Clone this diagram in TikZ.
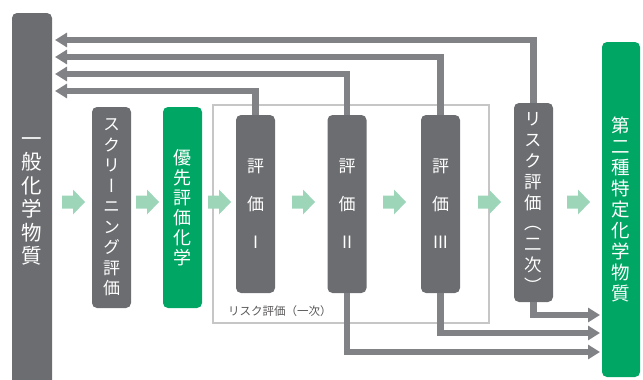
\documentclass[tikz,border=0pt]{standalone}
\usepackage{fontspec}
\newfontfamily\jp{Noto Sans CJK JP}
\newfontfamily\jpv{Noto Sans CJK JP}[RawFeature=+vert]
\usetikzlibrary{arrows.meta,calc}
\definecolor{boxgray}{HTML}{6C6D70}
\definecolor{linegray}{HTML}{818286}
\definecolor{mygreen}{HTML}{00A764}
\definecolor{lgreen}{HTML}{9DD5B9}
\definecolor{rectgray}{HTML}{C6C6C6}
\definecolor{labelgray}{HTML}{595757}
\begin{document}
\begin{tikzpicture}[x=1pt,y=-1pt,
  box/.style={fill=boxgray, rounded corners=5pt, text=white, inner sep=0pt, align=center, minimum width=39pt},
  gbox/.style={box, fill=mygreen},
  vtext/.style={font=\jpv\fontsize{17}{20.5}\selectfont},
  conn/.style={draw=linegray, line width=6.5pt, -{Triangle[length=12pt,width=14pt]}},
  garrow/.pic={\fill[lgreen] (0,-6.5) -- (11,-6.5) -- (11,-12.5) -- (23,0) -- (11,12.5) -- (11,6.5) -- (0,6.5) -- cycle;}
]
\useasboundingbox (0,0) rectangle (643,380);

% group rectangle
\node[draw=rectgray, line width=2pt, minimum width=276pt, minimum height=218pt, inner sep=0pt] (grp) at (351,214) {};

% boxes
\node[box, minimum width=40pt, minimum height=377pt, font=\jpv\fontsize{20.5}{23.5}\selectfont] (gen) at (32,201.5)
  {一\\般\\化\\学\\物\\質};
\node[box, minimum height=201pt, vtext] (scr) at (111.5,207.5)
  {ス\\ク\\リ\\ー\\ニ\\ン\\グ\\評\\価};
\node[gbox, minimum height=201pt, font=\jpv\fontsize{18}{20}\selectfont] (pri) at (182.5,207.5)
  {優\\先\\評\\価\\化\\学};
\node[box, minimum height=178pt, font=\jp\fontsize{17}{38}\selectfont] (ev1) at (255.5,204)
  {評\\価\\I};
\node[box, minimum height=178pt, font=\jp\fontsize{17}{38}\selectfont] (ev2) at (347,204)
  {評\\価\\II};
\node[box, minimum height=178pt, font=\jp\fontsize{17}{38}\selectfont] (ev3) at (440.5,204)
  {評\\価\\III};
\node[box, minimum height=199pt, font=\jpv\fontsize{17.5}{20.9}\selectfont] (rs2) at (533.5,202.5)
  {リ\\ス\\ク\\評\\価\\（\\二\\次\\）};
\node[gbox, minimum width=38pt, minimum height=335pt, font=\jpv\fontsize{18.5}{21.1}\selectfont] (sec) at (621,209.5)
  {第\\二\\種\\特\\定\\化\\学\\物\\質};

% label
\node[anchor=west, inner sep=0pt, text=labelgray, font=\jp\fontsize{11.5}{12}\selectfont] (lab) at (228,311) {リスク評価（一次）};

% feedback arrows (to the left)
\coordinate (t1) at (55,40);
\coordinate (t2) at (55,57);
\coordinate (t3) at (55,74);
\coordinate (t4) at (55,91);
\draw[conn] (rs2.north) |- (t1);
\draw[conn] (ev3.north) |- (t2);
\draw[conn] (ev2.north) |- (t3);
\draw[conn] (ev1.north) |- (t4);

% result arrows (to the right)
\coordinate (b1) at (600,315);
\coordinate (b2) at (600,333);
\coordinate (b3) at (600,352);
\draw[conn] (rs2.south) |- (b1);
\draw[conn] (ev3.south) |- (b2);
\draw[conn] (ev2.south) |- (b3);

% green flow arrows
\foreach \xx in {62,136,208,292,383,478,567} {
  \pic at (\xx,202) {garrow};
}
\end{tikzpicture}
\end{document}
